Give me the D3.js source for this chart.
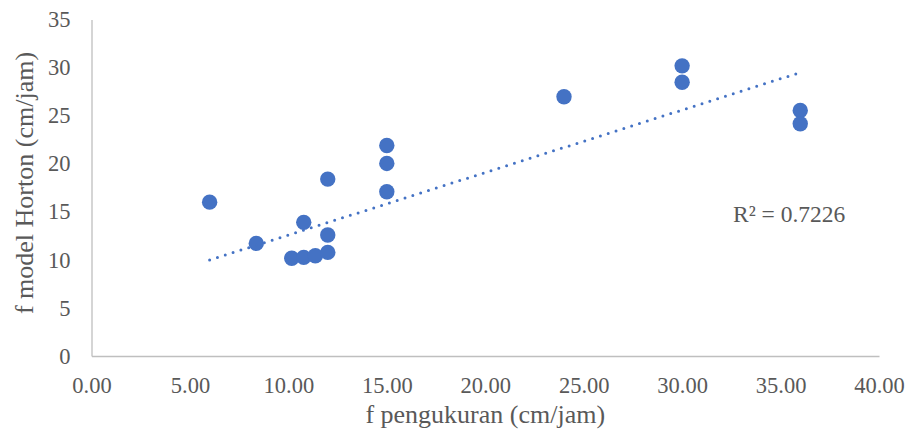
<!DOCTYPE html>
<html>
<head>
<meta charset="utf-8">
<script src="https://cdn.jsdelivr.net/npm/d3@7"></script>
<style>
  html, body { margin: 0; padding: 0; background: #fff; }
  svg { display: block; }
  text { font-family: "Liberation Serif", "Times New Roman", serif; fill: #595959; }
</style>
</head>
<body>
<svg id="chart" width="912" height="443"></svg>
<script>
// Measured infiltration rate vs. Horton model infiltration rate (cm/jam)
const fPengukuran = [6, 8.37, 10.17, 10.78, 11.37, 12, 12, 10.78, 12, 15, 15, 15, 24, 30, 30, 36, 36];
const fHorton     = [16.0, 11.71, 10.16, 10.26, 10.43, 10.78, 12.58, 13.9, 18.4, 21.9, 20.03, 17.08, 26.96, 30.18, 28.48, 25.54, 24.15];

// Linear trendline (span and end values)
const trendX = [6, 36];
const trendY = [9.98, 29.49];
const rSquared = "0.7226";

const xTicks = [0, 5, 10, 15, 20, 25, 30, 35, 40];
const yTicks = [0, 5, 10, 15, 20, 25, 30, 35];

const svg = d3.select("#chart");
const margin = { left: 91.5, right: 33, top: 19.5, bottom: 87 };
const W = 912, H = 443;

const x = d3.scaleLinear().domain([0, 40]).range([margin.left, W - margin.right]);
const y = d3.scaleLinear().domain([0, 35]).range([H - margin.bottom, margin.top]);

// Axes
const xAxis = d3.axisBottom(x).tickValues(xTicks).tickFormat(d3.format(".2f")).tickSize(0).tickPadding(21);
const yAxis = d3.axisLeft(y).tickValues(yTicks).tickFormat(d3.format("d")).tickSize(0).tickPadding(21);

const gx = svg.append("g").attr("transform", `translate(0,${y(0)})`).call(xAxis);
const gy = svg.append("g").attr("transform", `translate(${x(0)},0)`).call(yAxis);

[gx, gy].forEach(g => {
  g.select(".domain").attr("stroke", "#bfbfbf").attr("stroke-width", 1.3);
  g.selectAll(".tick text").style("font-size", "22.5px").attr("fill", "#595959");
});

// Points
svg.append("g")
  .selectAll("circle")
  .data(fPengukuran.map((v, i) => [v, fHorton[i]]))
  .join("circle")
  .attr("cx", d => x(d[0]))
  .attr("cy", d => y(d[1]))
  .attr("r", 7.7)
  .attr("fill", "#4472C4");

// Dotted trendline
svg.append("line")
  .attr("x1", x(trendX[0])).attr("y1", y(trendY[0]))
  .attr("x2", x(trendX[1])).attr("y2", y(trendY[1]))
  .attr("stroke", "#4472C4")
  .attr("stroke-width", 3)
  .attr("stroke-linecap", "round")
  .attr("stroke-dasharray", "0 8.2");

// R² label
svg.append("text")
  .attr("x", 733).attr("y", 222)
  .style("font-size", "23.5px")
  .text("R² = " + rSquared);

// Axis titles
svg.append("text")
  .attr("x", (x(0) + x(40)) / 2).attr("y", 423)
  .attr("text-anchor", "middle")
  .style("font-size", "26px")
  .text("f pengukuran (cm/jam)");

svg.append("text")
  .attr("transform", "translate(33,183) rotate(-90)")
  .attr("text-anchor", "middle")
  .style("font-size", "26px")
  .text("f model Horton (cm/jam)");
</script>
</body>
</html>
